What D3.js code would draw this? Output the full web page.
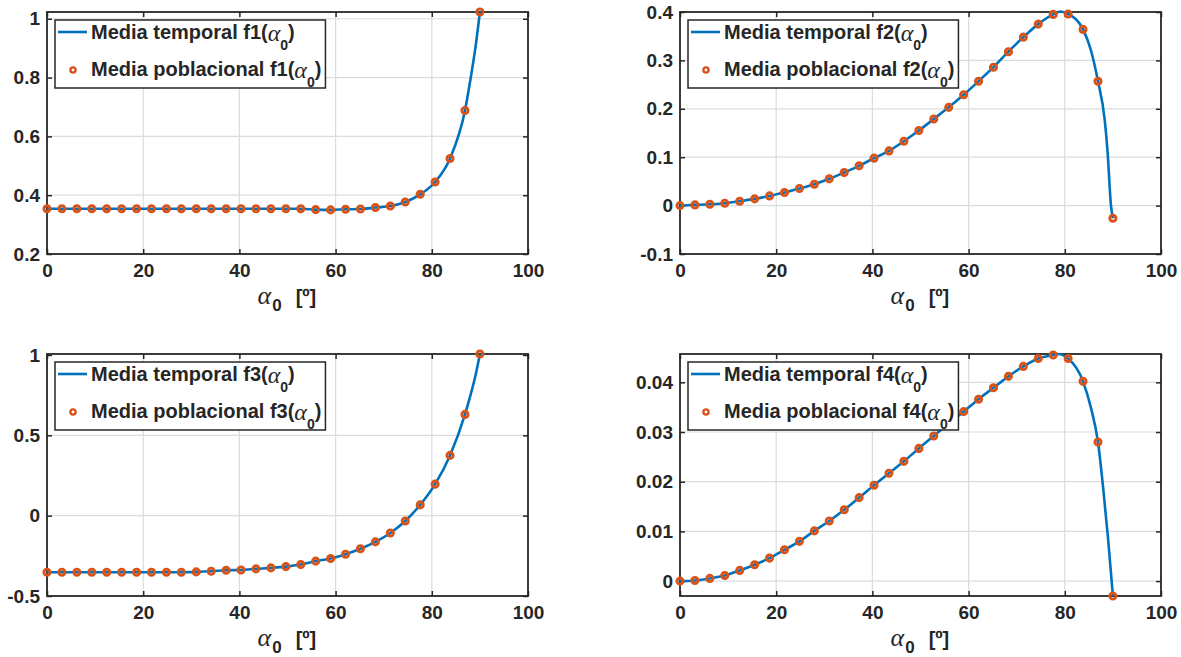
<!DOCTYPE html>
<html>
<head>
<meta charset="utf-8">
<script src="https://cdn.jsdelivr.net/npm/d3@7"></script>
<style>
body { margin: 0; background: #fff; }
text { font-family: "Liberation Sans", Arial, sans-serif; font-weight: bold; fill: #262626; }
.greek { font-family: "Liberation Serif", "DejaVu Serif", serif; font-style: italic; font-weight: normal; }
</style>
</head>
<body>
<script>
// angle samples (linspace 0..90, 30 points)
var alpha0 = [0, 3.10, 6.21, 9.31, 12.41, 15.52, 18.62, 21.72, 24.83, 27.93,
    31.03, 34.14, 37.24, 40.34, 43.45, 46.55, 49.66, 52.76, 55.86, 58.97,
    62.07, 65.17, 68.28, 71.38, 74.48, 77.59, 80.69, 83.79, 86.90, 90.00];

// media poblacional (markers)
var f1Pob = [0.354, 0.354, 0.354, 0.354, 0.354, 0.354, 0.354, 0.354, 0.354, 0.354,
    0.354, 0.354, 0.354, 0.354, 0.354, 0.354, 0.354, 0.354, 0.351, 0.350,
    0.352, 0.353, 0.358, 0.363, 0.377, 0.403, 0.445, 0.525, 0.688, 1.023];
var f2Pob = [0, 0.0014, 0.0028, 0.0049, 0.009, 0.0139, 0.020, 0.027, 0.0353, 0.0442,
    0.0553, 0.0684, 0.0822, 0.098, 0.113, 0.133, 0.155, 0.179, 0.203, 0.229,
    0.257, 0.286, 0.318, 0.348, 0.375, 0.395, 0.396, 0.364, 0.257, -0.026];
var f3Pob = [-0.352, -0.352, -0.352, -0.352, -0.352, -0.352, -0.352, -0.352, -0.352, -0.352,
    -0.350, -0.346, -0.340, -0.338, -0.331, -0.325, -0.317, -0.304, -0.283, -0.267,
    -0.240, -0.206, -0.163, -0.108, -0.033, 0.067, 0.196, 0.375, 0.630, 1.006];
var f4Pob = [0, 0.00013, 0.00054, 0.00114, 0.00215, 0.00328, 0.00463, 0.0063, 0.0080, 0.0101,
    0.0121, 0.01435, 0.0168, 0.0193, 0.0217, 0.0241, 0.0267, 0.0292, 0.0317, 0.0341,
    0.0366, 0.0389, 0.0412, 0.0432, 0.0448, 0.0455, 0.0448, 0.0402, 0.0280, -0.0030];

// media temporal: same curve, extra samples where it bends sharply
var f1Extra = [[88.1, 0.800], [89.0, 0.894]];
var f2Extra = [[79.1, 0.401], [85.4, 0.322], [88.3, 0.177], [88.9, 0.110], [89.6, 0.0]];
var f3Extra = [[88.1, 0.756], [89.0, 0.861]];
var f4Extra = [[78.5, 0.0457], [85.4, 0.0350], [88.0, 0.0185], [89.0, 0.0085]];

// axis ticks
var xTicks = [0, 20, 40, 60, 80, 100];
var f1Ticks = [0.2, 0.4, 0.6, 0.8, 1];
var f2Ticks = [-0.1, 0, 0.1, 0.2, 0.3, 0.4];
var f3Ticks = [-0.5, 0, 0.5, 1];
var f4Ticks = [0, 0.01, 0.02, 0.03, 0.04];

var blue = "#0072BD", orange = "#D95319", ink = "#262626";

var svg = d3.select("body").append("svg")
    .attr("width", 1181)
    .attr("height", 657);

var W = 481, H = 242;

var panels = [
    {name: "f1", pob: f1Pob, extra: f1Extra, ticks: f1Ticks, yDomain: [0.2, 1.023], left: 47, top: 12},
    {name: "f2", pob: f2Pob, extra: f2Extra, ticks: f2Ticks, yDomain: [-0.1, 0.4], left: 680, top: 12},
    {name: "f3", pob: f3Pob, extra: f3Extra, ticks: f3Ticks, yDomain: [-0.5, 1.006], left: 47, top: 354},
    {name: "f4", pob: f4Pob, extra: f4Extra, ticks: f4Ticks, yDomain: [-0.003, 0.0457], left: 680, top: 354}
];

panels.forEach(drawPanel);

function drawPanel(p) {
    var x = d3.scaleLinear().domain([0, 100]).range([p.left, p.left + W]);
    var y = d3.scaleLinear().domain(p.yDomain).range([p.top + H, p.top]);
    var g = svg.append("g");

    // grid
    g.append("g").selectAll("line")
        .data(xTicks.slice(1, -1))
        .join("line")
        .attr("x1", d => x(d)).attr("x2", d => x(d))
        .attr("y1", p.top).attr("y2", p.top + H)
        .attr("stroke", "#dcdcdc").attr("stroke-width", 1.2);
    g.append("g").selectAll("line")
        .data(p.ticks.filter(t => y(t) > p.top + 1 && y(t) < p.top + H - 1))
        .join("line")
        .attr("x1", p.left).attr("x2", p.left + W)
        .attr("y1", d => y(d)).attr("y2", d => y(d))
        .attr("stroke", "#dcdcdc").attr("stroke-width", 1.2);

    // axes (ticks inside, on all four sides)
    var fmt = d => String(d);
    var axB = g.append("g").attr("transform", "translate(0," + (p.top + H) + ")")
        .call(d3.axisBottom(x).tickValues(xTicks).tickSizeInner(-5).tickSizeOuter(0).tickPadding(10).tickFormat(fmt));
    var axT = g.append("g").attr("transform", "translate(0," + p.top + ")")
        .call(d3.axisTop(x).tickValues(xTicks).tickSizeInner(-5).tickSizeOuter(0).tickFormat(""));
    var axL = g.append("g").attr("transform", "translate(" + p.left + ",0)")
        .call(d3.axisLeft(y).tickValues(p.ticks).tickSizeInner(-5).tickSizeOuter(0).tickPadding(7).tickFormat(fmt));
    var axR = g.append("g").attr("transform", "translate(" + (p.left + W) + ",0)")
        .call(d3.axisRight(y).tickValues(p.ticks).tickSizeInner(-5).tickSizeOuter(0).tickFormat(""));
    [axB, axT, axL, axR].forEach(a => {
        a.attr("color", ink).attr("font-size", null).attr("font-family", null);
        a.select(".domain").remove();
        a.selectAll("line").attr("stroke-width", 1.5);
        a.selectAll("text").attr("font-size", 19);
    });

    g.append("rect")
        .attr("x", p.left).attr("y", p.top)
        .attr("width", W).attr("height", H)
        .attr("fill", "none").attr("stroke", ink).attr("stroke-width", 1.8);

    // x label
    var xl = g.append("text")
        .attr("x", p.left + W / 2 - 30)
        .attr("y", p.top + H + 50);
    xl.append("tspan").attr("class", "greek").attr("font-size", 26).text("α");
    xl.append("tspan").attr("font-size", 17).attr("dy", 7).attr("dx", 1).text("0");
    xl.append("tspan").attr("font-size", 20).attr("dy", -7).attr("dx", 14).text("[º]");

    // series
    var pts = alpha0.map((a, i) => [a, p.pob[i]]).concat(p.extra)
        .sort((a, b) => a[0] - b[0]);
    var line = d3.line()
        .x(d => x(d[0]))
        .y(d => y(d[1]))
        .curve(d3.curveMonotoneX);
    g.append("path")
        .attr("d", line(pts))
        .attr("fill", "none")
        .attr("stroke", blue)
        .attr("stroke-width", 2.6);
    g.append("g").selectAll("circle")
        .data(alpha0)
        .join("circle")
        .attr("cx", d => x(d))
        .attr("cy", (d, i) => y(p.pob[i]))
        .attr("r", 3.1)
        .attr("fill", "none")
        .attr("stroke", orange)
        .attr("stroke-width", 2.9);

    // legend
    var lx = p.left + 8, ly = p.top + 8;
    var lg = g.append("g");
    var box = lg.append("rect")
        .attr("x", lx).attr("y", ly)
        .attr("height", 68)
        .attr("fill", "#fff").attr("stroke", ink).attr("stroke-width", 1.5);
    lg.append("line")
        .attr("x1", lx + 3).attr("x2", lx + 32)
        .attr("y1", ly + 12).attr("y2", ly + 12)
        .attr("stroke", blue).attr("stroke-width", 2.6);
    lg.append("circle")
        .attr("cx", lx + 18).attr("cy", ly + 50)
        .attr("r", 2.6)
        .attr("fill", "none").attr("stroke", orange).attr("stroke-width", 2.4);
    var labels = ["Media temporal " + p.name + "(", "Media poblacional " + p.name + "("];
    var maxR = 0;
    labels.forEach((lab, k) => {
        var t = lg.append("text")
            .attr("x", lx + 36)
            .attr("y", ly + 19 + k * 37)
            .attr("font-size", 20);
        t.append("tspan").text(lab);
        t.append("tspan").attr("class", "greek").attr("font-size", 24).attr("dy", 2).text("α");
        t.append("tspan").attr("font-size", 14).attr("dy", 9).text("0");
        t.append("tspan").attr("dy", -11).text(")");
        var bb = t.node().getBBox();
        maxR = Math.max(maxR, bb.x + bb.width);
    });
    box.attr("width", maxR - lx + 4);
}
</script>
</body>
</html>
